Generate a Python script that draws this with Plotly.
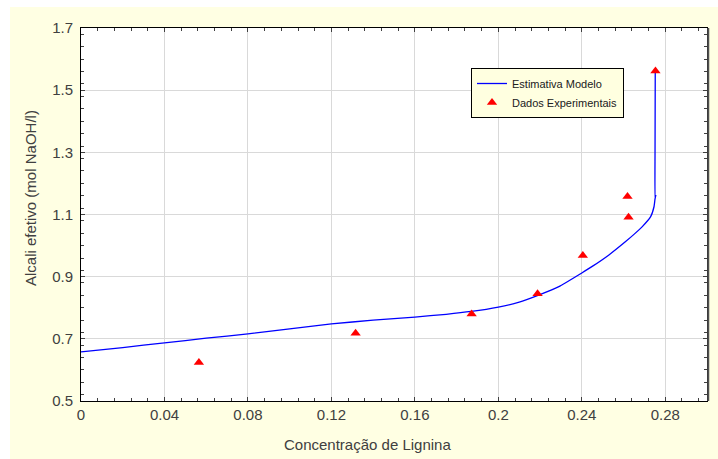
import plotly.graph_objects as go

# Model curve: lignin concentration vs effective alkali
model_x = [0.0, 0.02, 0.04, 0.06, 0.08, 0.10, 0.12, 0.14, 0.16, 0.175, 0.187, 0.20,
           0.21, 0.219, 0.229, 0.24, 0.245, 0.253, 0.261, 0.265, 0.269, 0.273,
           0.2746, 0.2751, 0.2755, 0.2751, 0.2751, 0.2752]
model_y = [0.658, 0.672, 0.687, 0.702, 0.716, 0.732, 0.748, 0.760, 0.770, 0.779, 0.788, 0.802,
           0.818, 0.840, 0.868, 0.912, 0.933, 0.970, 1.013, 1.036, 1.061, 1.093,
           1.125, 1.150, 1.163, 1.150, 1.30, 1.56]

# Experimental points
exp_x = [0.0565, 0.1316, 0.1872, 0.2188, 0.2405, 0.2619, 0.2624, 0.2753]
exp_y = [0.624, 0.718, 0.780, 0.845, 0.968, 1.158, 1.091, 1.562]

x_ticks = [0, 0.04, 0.08, 0.12, 0.16, 0.2, 0.24, 0.28]
x_labels = ["0", "0.04", "0.08", "0.12", "0.16", "0.2", "0.24", "0.28"]
y_ticks = [0.5, 0.7, 0.9, 1.1, 1.3, 1.5, 1.7]
y_labels = ["0.5", "0.7", "0.9", "1.1", "1.3", "1.5", "1.7"]

FONT = "Liberation Sans, Arial, sans-serif"
TXT = "#404040"

fig = go.Figure()
fig.add_trace(go.Scatter(
    x=model_x, y=model_y, mode="lines", name="Estimativa Modelo",
    line=dict(color="#0000ff", width=1.3, shape="spline", smoothing=0.4),
    cliponaxis=False))
fig.add_trace(go.Scatter(
    x=exp_x, y=exp_y, mode="markers", name="Dados Experimentais",
    marker=dict(symbol="triangle-up", color="#ff0000", size=9,
                line=dict(width=0)), cliponaxis=False))

W, H = 718, 459
L, R, T, B = 81, 11, 28, 58
pw, ph = W - L - R, H - T - B

def px(xp):
    return (xp - L) / pw

def py(yp):
    return (H - B - yp) / ph

axis_common = dict(
    showline=True, linecolor="black", linewidth=1, mirror="ticks",
    ticks="inside", ticklen=4, tickcolor="#404040",
    showgrid=True, gridcolor="#d9d9d9", gridwidth=1, zeroline=False,
    tickfont=dict(family=FONT, size=15, color=TXT),
)

fig.update_xaxes(range=[0, 0.3], tickvals=x_ticks, ticktext=x_labels,
                 minor=dict(dtick=0.008, ticks="inside", ticklen=3, tickcolor="#404040",
                            showgrid=False),
                 **axis_common)
fig.update_yaxes(range=[0.5, 1.7], tickvals=y_ticks, ticktext=y_labels,
                 minor=dict(dtick=0.04, ticks="inside", ticklen=3, tickcolor="#404040",
                            showgrid=False),
                 ticklabelstandoff=4,
                 **axis_common)

shapes = [
    # white strips along the top and left of the page
    dict(type="rect", xref="paper", yref="paper", x0=px(0), x1=px(W), y0=py(7), y1=py(0),
         fillcolor="white", line=dict(width=0), layer="below"),
    dict(type="rect", xref="paper", yref="paper", x0=px(0), x1=px(10), y0=py(H), y1=py(0),
         fillcolor="white", line=dict(width=0), layer="below"),
    # heavier frame edge on the right
    dict(type="line", xref="paper", yref="paper", x0=1.002, x1=1.002, y0=0, y1=1,
         line=dict(color="#505050", width=2)),
]

annotations = [
    dict(text="Concentração de Lignina", xref="paper", yref="paper",
         x=px(367), y=py(444), xanchor="center", yanchor="middle", showarrow=False,
         font=dict(family=FONT, size=15, color=TXT)),
    dict(text="Alcali efetivo (mol NaOH/l)", xref="paper", yref="paper",
         x=px(30), y=py(198), xanchor="center", yanchor="middle", showarrow=False,
         textangle=-90, font=dict(family=FONT, size=15, color=TXT)),
]

fig.update_layout(
    width=W, height=H,
    margin=dict(l=L, r=R, t=T, b=B),
    paper_bgcolor="#ffffe3",
    plot_bgcolor="white",
    showlegend=True,
    legend=dict(x=px(471), y=py(68), xanchor="left", yanchor="top",
                bgcolor="#ffffe0", bordercolor="black", borderwidth=1,
                font=dict(family=FONT, size=11, color="#202020"),
                itemwidth=30, tracegroupgap=0),
    shapes=shapes,
    annotations=annotations,
)

fig.write_html("out.html")
